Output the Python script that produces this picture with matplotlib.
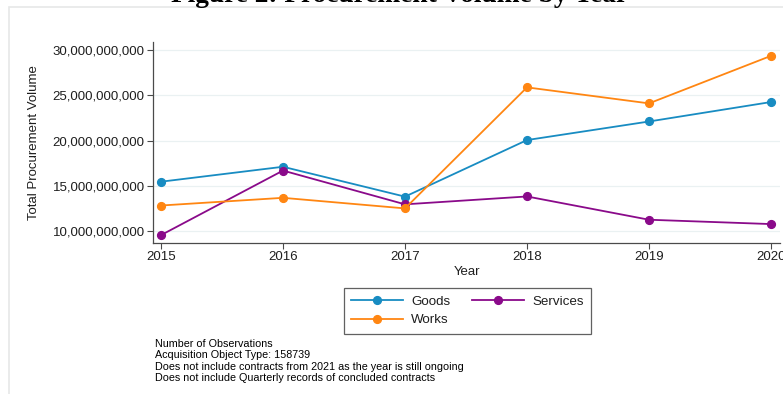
import matplotlib
matplotlib.use("Agg")
import matplotlib.pyplot as plt
from matplotlib.patches import Rectangle
from matplotlib.ticker import FuncFormatter

# procurement volume per object type, 2015-2020
years = [2015, 2016, 2017, 2018, 2019, 2020]
goods = [15.45e9, 17.1e9, 13.8e9, 20.05e9, 22.1e9, 24.25e9]
services = [9.55e9, 16.68e9, 12.95e9, 13.82e9, 11.25e9, 10.77e9]
works = [12.82e9, 13.67e9, 12.5e9, 25.87e9, 24.1e9, 29.35e9]

y_ticks = [10e9, 15e9, 20e9, 25e9, 30e9]

notes = [
    "Number of Observations",
    "Acquisition Object Type: 158739",
    "Does not include contracts from 2021 as the year is still ongoing",
    "Does not include Quarterly records of concluded contracts",
]

BLUE = "#188cc2"
PURPLE = "#8a0a8a"
ORANGE = "#ff8612"
TEXT = "#1e1e1e"
AXIS = "#4a4a4a"

plt.rcParams["font.family"] = ["Liberation Sans", "DejaVu Sans"]

W, H = 783, 394
fig = plt.figure(figsize=(W / 100, H / 100), dpi=100)
fig.patch.set_facecolor("white")

# light graph-region border (runs off the right and bottom edges)
fig.patches.append(Rectangle((9 / W, -0.05), 1.2, 1 - 7 / H + 0.05,
                             transform=fig.transFigure, fill=False,
                             edgecolor="#e6e8e8", linewidth=1.2))

fig.text(400 / W, 1 - 2 / H, "Figure 2: Procurement Volume by Year",
         ha="center", va="baseline", fontsize=19.7, fontweight="bold",
         family=["Liberation Serif", "DejaVu Serif"], color="black")

ax = fig.add_axes([153 / W, 1 - 243 / H, (780 - 153) / W, (243 - 42) / H])

kw = dict(linewidth=1.3, marker="o", markersize=5.6)
l_goods, = ax.plot(years, goods, color=BLUE, label="Goods", **kw)
l_serv, = ax.plot(years, services, color=PURPLE, label="Services", **kw)
l_works, = ax.plot(years, works, color=ORANGE, label="Works", **kw)

ax.set_xlim(2015 - 8 / 122, 2020 + 9 / 122)
ax.set_ylim(8.68e9, 30.88e9)
ax.set_xticks(years)
ax.set_yticks(y_ticks)
ax.yaxis.set_major_formatter(FuncFormatter(lambda v, p: f"{v:,.0f}"))

ax.yaxis.grid(True, color="#eaf1f2", linewidth=0.9)
ax.set_axisbelow(True)
for s in ["top", "right"]:
    ax.spines[s].set_visible(False)
for s in ["left", "bottom"]:
    ax.spines[s].set_color(AXIS)
    ax.spines[s].set_linewidth(0.9)
ax.tick_params(axis="both", direction="out", length=4, width=0.8,
               color=AXIS, labelcolor=TEXT, labelsize=9.5, pad=2)

ax.set_ylabel("Total Procurement Volume", fontsize=9.5, color=TEXT, labelpad=9)
ax.set_xlabel("Year", fontsize=9.5, color=TEXT, labelpad=2)

leg = fig.legend([l_goods, l_works, l_serv], ["Goods", "Works", "Services"],
                 ncol=2, loc="upper left",
                 bbox_to_anchor=(344 / W, 1 - 288 / H), borderaxespad=0,
                 fontsize=9.6, frameon=True, fancybox=False,
                 edgecolor="#3a3a3a", handlelength=3.85, handletextpad=0.65,
                 columnspacing=1.65, borderpad=0.55, labelspacing=0.48)
leg.get_frame().set_linewidth(0.9)
for t in leg.get_texts():
    t.set_color(TEXT)

for i, line in enumerate(notes):
    fig.text(155 / W, 1 - (344 + 11.3 * i) / H, line, ha="left", va="center",
             fontsize=7.75, color="black")

fig.savefig("out.png", dpi=100)
